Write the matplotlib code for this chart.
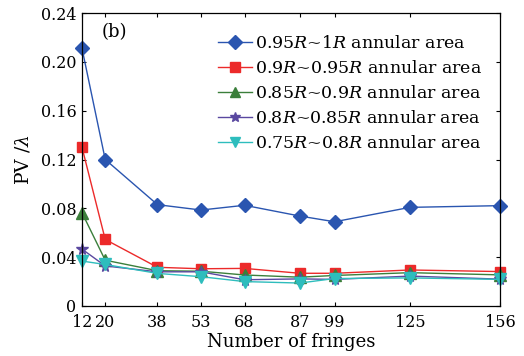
import matplotlib
matplotlib.use("Agg")
import matplotlib.pyplot as plt

plt.rcParams["font.family"] = ["DejaVu Serif"]
plt.rcParams["mathtext.fontset"] = "custom"
plt.rcParams["mathtext.rm"] = "DejaVu Serif"
plt.rcParams["mathtext.it"] = "DejaVu Serif:italic"

fringes = [12, 20, 38, 53, 68, 87, 99, 125, 156]

pv_095_1 = [0.211, 0.120, 0.083, 0.0786, 0.0825, 0.0737, 0.069, 0.0808, 0.0822]
pv_09_095 = [0.130, 0.0545, 0.0317, 0.0305, 0.0308, 0.0268, 0.0268, 0.0295, 0.0282]
pv_085_09 = [0.0764, 0.0375, 0.0289, 0.0285, 0.0254, 0.0236, 0.0250, 0.0273, 0.0255]
pv_08_085 = [0.0466, 0.0328, 0.0280, 0.0280, 0.0215, 0.0222, 0.0218, 0.0245, 0.0220]
pv_075_08 = [0.0368, 0.0340, 0.0267, 0.0240, 0.0200, 0.0188, 0.0225, 0.0230, 0.0218]

series = [
    (pv_095_1, r"0.95$R$~1$R$ annular area", "#2a55b0", "D", 7),
    (pv_09_095, r"0.9$R$~0.95$R$ annular area", "#ec2a2a", "s", 6.5),
    (pv_085_09, r"0.85$R$~0.9$R$ annular area", "#3b7f3b", "^", 8),
    (pv_08_085, r"0.8$R$~0.85$R$ annular area", "#5a48a0", "*", 8.5),
    (pv_075_08, r"0.75$R$~0.8$R$ annular area", "#2ebdbd", "v", 8),
]

yticks = [0, 0.04, 0.08, 0.12, 0.16, 0.20, 0.24]
ytick_labels = ["0", "0.04", "0.08", "0.12", "0.16", "0.20", "0.24"]

fig = plt.figure(figsize=(5.24, 3.56), dpi=100)
ax = fig.add_axes([82 / 524, 1 - 306 / 356, (500 - 82) / 524, (306 - 13) / 356])

for vals, label, color, marker, ms in series:
    ax.plot(fringes, vals, color=color, lw=1.0, marker=marker, ms=ms,
            markerfacecolor=color, markeredgecolor=color, label=label,
            clip_on=False)

ax.set_xlim(12, 156)
ax.set_ylim(0, 0.24)
ax.set_xticks(fringes)
ax.set_xticklabels([str(f) for f in fringes])
ax.set_yticks(yticks)
ax.set_yticklabels(ytick_labels)
ax.tick_params(direction="in", top=True, right=True, length=3, width=0.8,
               labelsize=11.5)
ax.tick_params(axis="y", pad=4)
ax.tick_params(axis="x", pad=6)
for s in ax.spines.values():
    s.set_linewidth(0.9)

ax.set_xlabel("Number of fringes", fontsize=13, labelpad=1)
ax.set_ylabel(r"PV /$\lambda$", fontsize=13.5, labelpad=6)
ax.text(0.047, 0.965, "(b)", transform=ax.transAxes, fontsize=13, va="top", ha="left")

leg = ax.legend(loc="upper left", bbox_to_anchor=(0.325, 0.925), frameon=False,
                fontsize=12.5, handlelength=1.95, handletextpad=0.17,
                labelspacing=0.46, borderaxespad=0, borderpad=0)
for h in leg.legend_handles:
    h.set_markersize(7)

fig.savefig("out.png", dpi=100)
